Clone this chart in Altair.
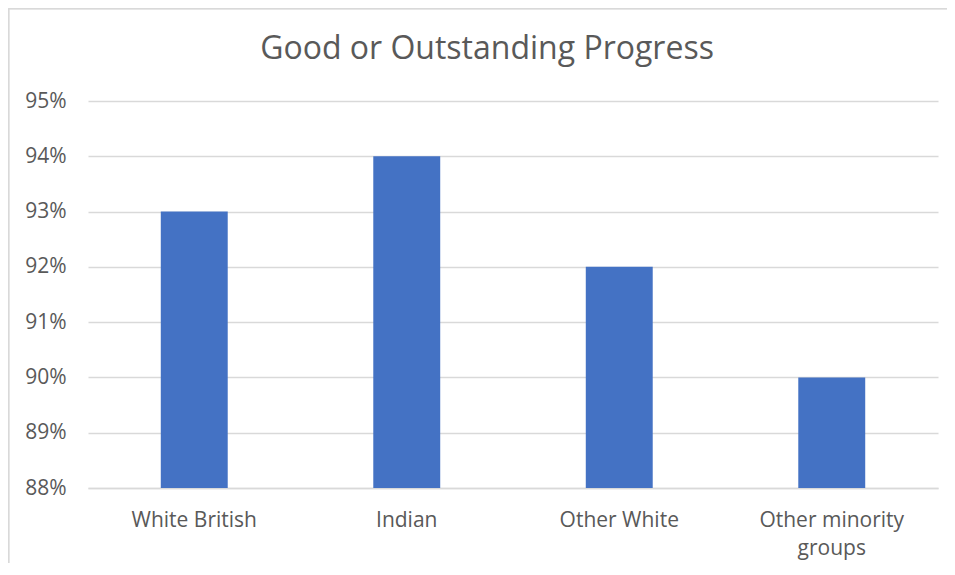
import altair as alt
import pandas as pd

categories = ["White British", "Indian", "Other White", "Other minority groups"]
values = [0.93, 0.94, 0.92, 0.90]
y_ticks = [0.88, 0.89, 0.90, 0.91, 0.92, 0.93, 0.94, 0.95]

df = pd.DataFrame({"group": categories, "value": values})

FONT = "Open Sans"
GREY = "#595959"
BORDER = "#d9d9d9"

bars = alt.Chart(df).mark_bar(color="#4472C4", clip=True).encode(
    x=alt.X("group:N", sort=categories, title=None,
            scale=alt.Scale(paddingInner=0.685, paddingOuter=0.3425),
            axis=alt.Axis(labelAngle=0, labelFont=FONT, labelFontSize=21,
                          labelColor=GREY, labelPadding=21, ticks=False,
                          domain=True, domainColor=BORDER, domainWidth=1.5,
                          labelLineHeight=28,
                          labelExpr="datum.label == 'Other minority groups' ? ['Other minority', 'groups'] : datum.label")),
    y=alt.Y("value:Q", title=None,
            scale=alt.Scale(domain=[0.88, 0.95], zero=False, nice=False),
            axis=alt.Axis(values=y_ticks, format=".0%", labelFont=FONT,
                          labelFontSize=21, labelColor=GREY, labelPadding=22,
                          ticks=False, domain=False, grid=True,
                          gridColor=BORDER, gridWidth=1.5)),
)

left_edge = alt.Chart(df).mark_rule(stroke=BORDER, strokeWidth=1.5).encode(
    x=alt.value(-79.5), y=alt.value(-92.5), y2=alt.value(700)
)
top_edge = alt.Chart(df).mark_rule(stroke=BORDER, strokeWidth=1.5).encode(
    y=alt.value(-92.5), x=alt.value(-79.5), x2=alt.value(1000)
)

chart = alt.layer(left_edge, top_edge, bars).properties(
    width=850, height=387,
    background="white",
    title=alt.TitleParams("Good or Outstanding Progress", font=FONT, fontSize=32,
                          fontWeight="normal", color=GREY, anchor="middle",
                          frame="group", offset=-58, dx=-26),
    autosize=alt.AutoSizeParams(type="none"),
    padding={"left": 80, "top": 93, "right": 9, "bottom": 75},
).configure_view(stroke=None)

chart.save("out.html", embed_options={"renderer": "svg", "actions": False})
